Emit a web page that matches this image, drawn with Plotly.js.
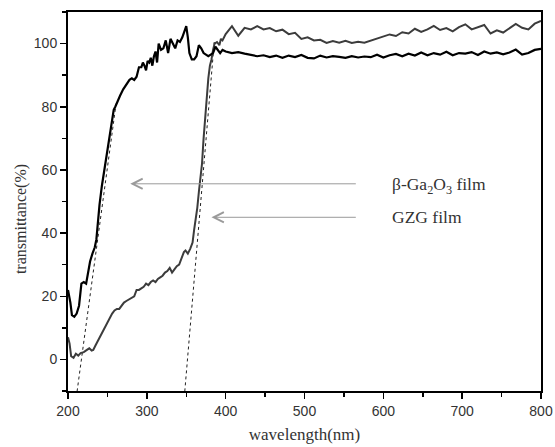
<!DOCTYPE html>
<html><head><meta charset="utf-8">
<script src="https://cdn.plot.ly/plotly-3.0.1.min.js"></script>
<style>html,body{margin:0;padding:0;background:#fff}#c{width:555px;height:447px}</style>
</head><body><div id="c"></div>
<script>
// beta-Ga2O3 film (black): absorption edge part and flat part
const betaEdgeX = [200,203,205,208,211,214,217,220,223,226,228,231,234,236,238,240,243,246,249,252,255,258,260,263,266,270,274,278,281,284,287,290,293,295,297,299,301,303,305,307,309,311,313,315,318,321,324,327,330,333,336,339,342,345,348,350,352,354,357,360,363,366,369,372,375,378,381,384,387,390,393,396];
const betaEdgeY = [22,18,14,13.5,14.5,17,24,24.5,24,28,31,33.5,35.5,38,44,49,55,60,64,70,75.5,79,80,82,83.5,85.5,87,88.5,89,88.5,89.5,92.5,92.5,94,93,91.5,94.5,94,95.5,93,96,97.5,94,100,98,98.5,101,97,101.5,100,98.5,101,100.5,102,104,105.5,102,97,95,95,96,99.5,98.5,97,96.5,96,96.5,97,99,98,97,98];
const flatX = [400,408,416,424,432,440,448,456,464,472,480,488,496,504,512,520,528,536,544,552,560,568,576,584,592,600,608,616,624,632,640,648,656,664,672,680,688,696,704,712,720,728,736,744,752,760,768,776,784,792,800];
const betaFlatY = [97.5,97,97.3,96.8,96.5,96,96.3,95.7,96.2,95.5,96.2,95.7,96.4,95.5,95.3,96.2,95.6,96,95.8,95.5,96,95.6,95.9,95.7,96.5,95.6,96.3,96.7,96,96.8,96.2,97.2,96.3,97,96.5,97.4,96.3,97,96.8,97.3,96.4,97.5,96.8,97.2,96.6,97.2,98.1,96.5,97,98,98.3];
// GZG film (dark grey)
const gzgEdgeX = [200,202,204,207,210,213,216,220,224,227,230,232,235,238,241,244,247,250,253,256,259,262,265,268,271,274,278,281,284,287,290,293,296,299,302,305,308,311,314,317,320,323,326,329,332,335,338,341,344,347,349,352,355,358,360,362,364,366,368,370,372,374,376,378,380,382,384,386,389,392,394,396];
const gzgEdgeY = [7,5,1,0.5,1.8,1.2,2,2.3,3,3.5,2.8,3,4.5,6,7,8.5,10,11.5,13,14.5,15.5,16,16,17,18,18.5,19,19.5,20,22,22,22.5,23,24,23.5,24.5,25,24.5,25.5,26,26.5,27.5,28,29,27.5,28.5,29.5,30,32,34,34.5,33.5,35,37,41,44,48,53,58,62,70,77,84,89,93,95,98,100,100.5,99.5,101.5,101];
const gzgFlatY = [103,105.5,102.5,105,104.5,105.5,104.5,104.9,103.9,104.4,103,103.4,101.5,102,101,101.2,100.2,100.8,100.3,100.9,100.2,100.6,100.3,101,101.5,102.2,102.9,102.4,103.6,103.2,104.7,103.7,104.5,105.6,104.3,104.9,103.9,105.2,106.1,104.5,105.3,105.9,103.2,104.2,103.5,104.8,106.2,105,104.5,106.3,107.2];
// tangent (extrapolation) lines
const tanBetaX = [210.5, 261];
const tanBetaY = [-12, 81];
const tanGzgX = [347.5, 385.5];
const tanGzgY = [-12, 100.5];
const xTicks = [200,300,400,500,600,700,800];
const yTicks = [0,20,40,60,80,100];

const betaX = betaEdgeX.concat(flatX), betaY = betaEdgeY.concat(betaFlatY);
const gzgX = gzgEdgeX.concat(flatX), gzgY = gzgEdgeY.concat(gzgFlatY);

const serif = 'Liberation Serif, Times New Roman, serif';
const traces = [
  {x: tanBetaX, y: tanBetaY, mode:'lines', line:{color:'#222', width:1, dash:'dot'}, hoverinfo:'skip'},
  {x: tanGzgX, y: tanGzgY, mode:'lines', line:{color:'#222', width:1, dash:'dot'}, hoverinfo:'skip'},
  {x: gzgX, y: gzgY, mode:'lines', name:'GZG film', line:{color:'#3c3c3c', width:2}},
  {x: betaX, y: betaY, mode:'lines', name:'β-Ga2O3 film', line:{color:'#000', width:2.2}}
];

const layout = {
  width:555, height:447,
  margin:{l:68, r:14, t:12, b:56},
  showlegend:false,
  paper_bgcolor:'#fff', plot_bgcolor:'#fff',
  xaxis:{range:[200,800], tickvals:xTicks, ticktext:xTicks.map(String), ticks:'outside', ticklen:6, tickwidth:1.5, tickcolor:'#000',
    minor:{dtick:50, tick0:200, ticks:'outside', ticklen:4, tickwidth:1.5, tickcolor:'#000'},
    showline:true, linecolor:'#000', linewidth:2, mirror:true, showgrid:false, zeroline:false,
    tickfont:{family:'Liberation Sans, Arial, sans-serif', size:14, color:'#333'},
    title:{text:'wavelength(nm)', font:{family:serif, size:17, color:'#333'}, standoff:10}},
  yaxis:{range:[-10,110], tickvals:yTicks, ticktext:yTicks.map(String), ticks:'outside', ticklen:6, tickwidth:1.5, tickcolor:'#000',
    minor:{dtick:10, tick0:0, ticks:'outside', ticklen:4, tickwidth:1.5, tickcolor:'#000'},
    showline:true, linecolor:'#000', linewidth:2, mirror:true, showgrid:false, zeroline:false,
    tickfont:{family:'Liberation Sans, Arial, sans-serif', size:14, color:'#333'}},
  annotations:[
    {x:-0.099, y:0.454, xref:'paper', yref:'paper', xanchor:'center', yanchor:'middle', textangle:-90, showarrow:false, text:'transmittance(%)', font:{family:serif, size:16, color:'#333'}},
    {x:279, y:55.6, ax:567, ay:55.6, axref:'x', ayref:'y', xref:'x', yref:'y', text:'', showarrow:true, arrowhead:5, arrowsize:2, arrowwidth:1, arrowcolor:'#9a9a9a'},
    {x:382, y:45, ax:567, ay:45, axref:'x', ayref:'y', xref:'x', yref:'y', text:'', showarrow:true, arrowhead:5, arrowsize:2, arrowwidth:1, arrowcolor:'#9a9a9a'},
    {x:609, y:55, xref:'x', yref:'y', xanchor:'left', yanchor:'middle', showarrow:false, text:'β-Ga<sub>2</sub>O<sub>3</sub> film', font:{family:serif, size:17.5, color:'#333'}},
    {x:609, y:45, xref:'x', yref:'y', xanchor:'left', yanchor:'middle', showarrow:false, text:'GZG film', font:{family:serif, size:17.5, color:'#333'}}
  ]
};
Plotly.newPlot('c', traces, layout, {displayModeBar:false, staticPlot:true});
</script></body></html>
